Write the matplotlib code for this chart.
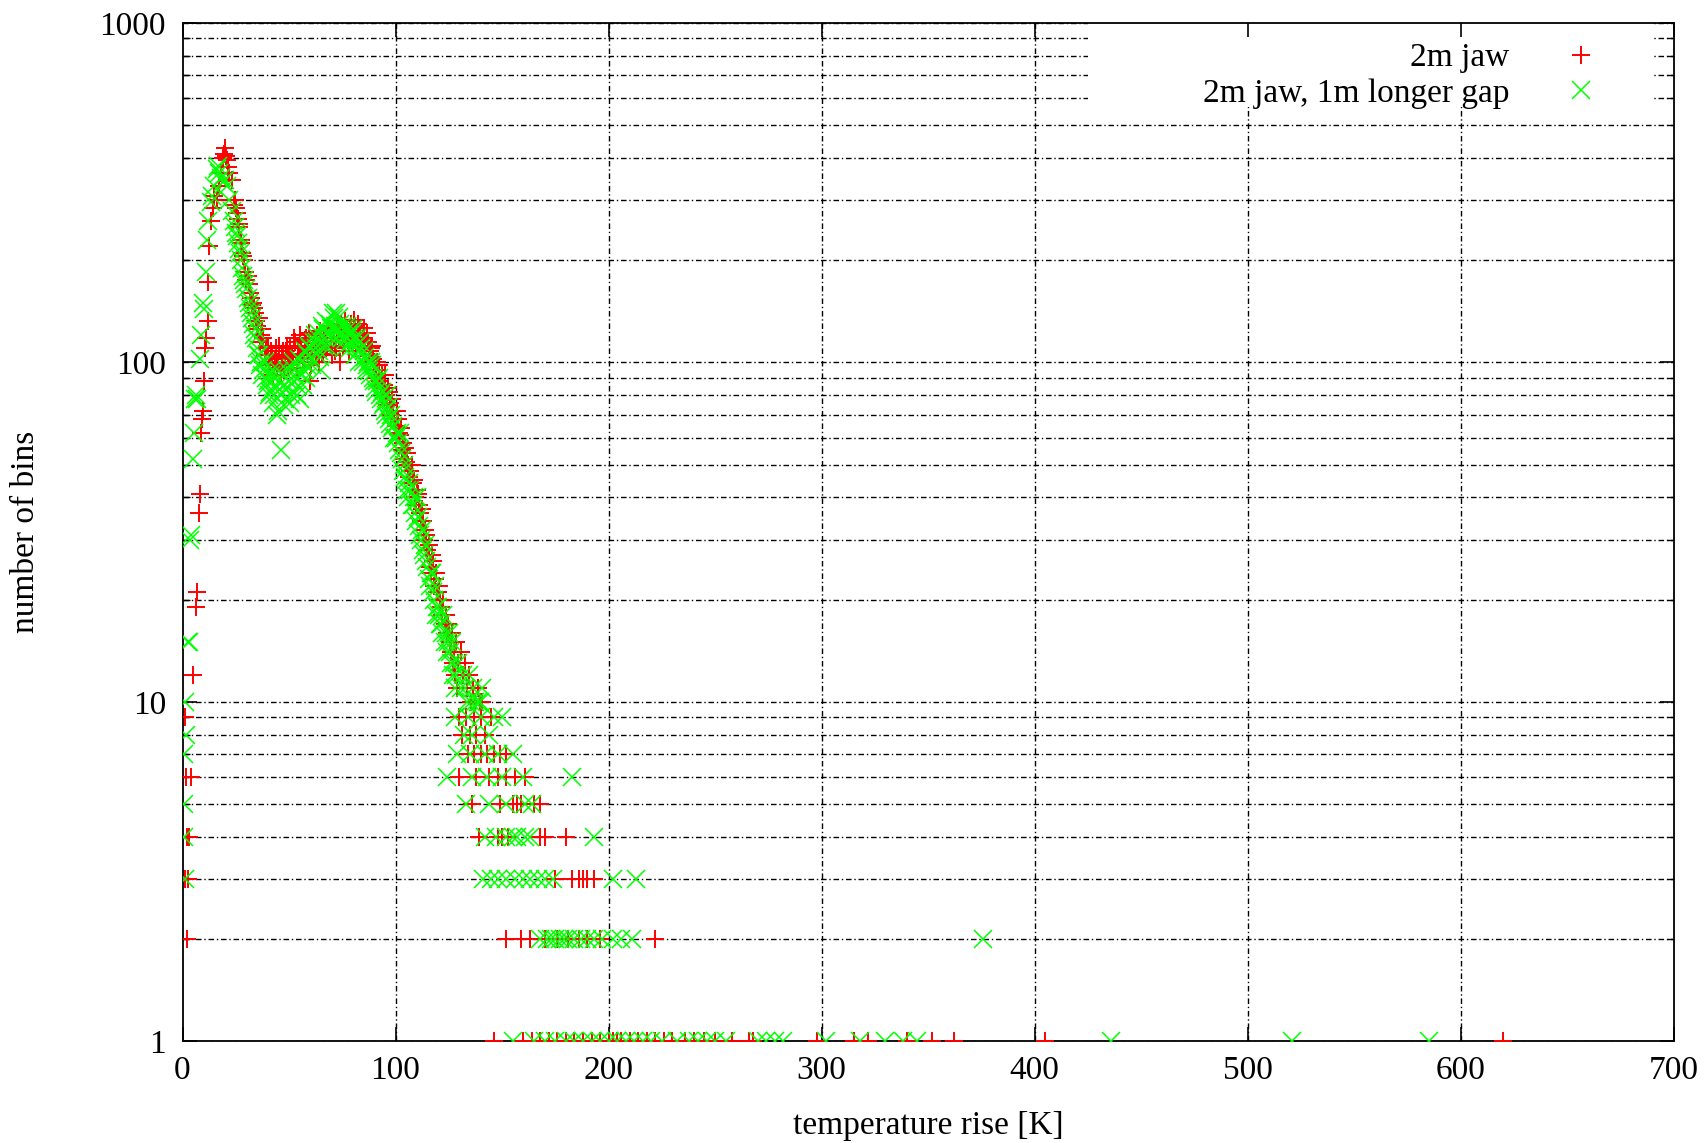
import numpy as np
import matplotlib.pyplot as plt
from matplotlib.patches import Rectangle

plt.rcParams['font.family'] = ['Liberation Serif', 'DejaVu Serif']

# 2m jaw (red +): temperature rise [K] and counts per bin
red_x = [1, 1.5, 2, 1, 2.5, 2, 3, 4, 5, 6.5,
         7, 7.5, 8, 8.5, 9, 9.5, 10, 10.5, 11, 11.8,
         11.8, 12.5, 13.5, 14.5, 15, 16, 17, 18, 19, 19.5,
         20, 20.5, 21, 21.5, 22, 23, 24, 25, 26, 26.5,
         27.5, 28, 29, 30, 31, 32, 33, 34, 35, 36,
         37, 38, 39, 40, 41, 42, 43, 44, 45, 46,
         47, 48, 49, 50, 51, 52, 53, 54, 55, 56,
         57, 58, 59, 60, 61, 62, 63, 64, 65, 66,
         67, 68, 69, 70, 71, 72, 73, 74, 75, 76,
         77, 78, 79, 80, 81, 82, 83, 84, 85, 86,
         87, 88, 89, 90, 91, 92, 93, 94, 95, 96,
         97, 98, 99, 100, 101, 102, 103, 104, 105, 106,
         107, 108, 109, 110, 111, 112, 113, 114, 115, 116,
         117, 118, 119, 120, 121, 122, 123, 124, 125, 126,
         127, 128, 129]
red_y = [9, 6, 4, 3, 3, 2, 4, 6, 12, 19,
         21, 36, 41, 62, 68, 72, 88, 110, 118, 132,
         173, 220, 260, 285, 310, 300, 330, 360, 400, 410,
         427, 405, 395, 375, 360, 345, 290, 285, 265, 255,
         230, 210, 200, 175, 170, 155, 150, 140, 128, 135,
         120, 118, 110, 112, 100, 105, 95, 110, 100, 92,
         108, 100, 112, 105, 98, 100, 115, 110, 120, 105,
         102, 118, 112, 88, 105, 110, 120, 100, 115, 108,
         118, 112, 125, 105, 118, 110, 122, 100, 128, 115,
         125, 108, 130, 120, 128, 115, 126, 110, 126, 100,
         115, 108, 112, 100, 90, 98, 85, 84, 92, 75,
         82, 70, 72, 65, 68, 61, 55, 52, 51, 50,
         48, 44, 40, 42, 38, 34, 34, 32, 28, 25,
         27, 22, 24, 21, 20, 18, 17, 16, 16, 14,
         13, 12, 11]

# red, bins in between (half-kelvin positions)
red_x2 = [24.5, 25.5, 26.5, 27.5, 28.5, 29.5, 30.5, 31.5, 32.5, 33.5,
          34.5, 35.5, 36.5, 37.5, 38.5, 39.5, 40.5, 41.5, 42.5, 43.5,
          44.5, 45.5, 46.5, 47.5, 48.5, 49.5, 50.5, 51.5, 52.5, 53.5,
          54.5, 55.5, 56.5, 57.5, 58.5, 59.5, 60.5, 61.5, 62.5, 63.5,
          64.5, 65.5, 66.5, 67.5, 68.5, 69.5, 70.5, 71.5, 72.5, 73.5,
          74.5, 75.5, 76.5, 77.5, 78.5, 79.5, 80.5, 81.5, 82.5, 83.5,
          84.5, 85.5, 86.5, 87.5, 88.5, 89.5, 90.5, 91.5, 92.5, 93.5,
          94.5, 95.5, 96.5, 97.5, 98.5, 99.5, 100.5, 101.5, 102.5, 103.5,
          104.5, 105.5, 106.5, 107.5, 108.5, 109.5, 110.5, 111.5, 112.5, 113.5,
          114.5, 115.5, 116.5, 117.5, 118.5, 119.5, 120.5, 121.5, 122.5, 123.5,
          124.5, 125.5, 126.5, 127.5, 128.5, 129.5, 130.5, 131.5, 132.5, 133.5,
          134.5, 135.5, 136.5, 137.5, 138.5, 139.5, 140.5]
red_y2 = [300, 275, 250, 225, 205, 185, 180, 160, 148, 145,
          132, 125, 115, 125, 105, 112, 98, 108, 92, 102,
          96, 112, 104, 95, 108, 98, 110, 104, 118, 96,
          106, 112, 100, 116, 108, 122, 98, 114, 104, 112,
          124, 106, 120, 110, 128, 115, 122, 108, 126, 118,
          130, 112, 132, 118, 124, 116, 133, 110, 130, 120,
          118, 112, 122, 105, 110, 102, 95, 100, 88, 92,
          86, 80, 84, 76, 78, 68, 72, 62, 64, 58,
          56, 54, 46, 50, 45, 38, 41, 36, 37, 30,
          31, 29, 24, 26, 23, 21, 22, 19, 20, 18,
          17, 15, 16, 14, 15, 13, 14, 12, 13, 11,
          12, 10, 11, 10, 11, 10, 10]

red_tail_x = [130, 133, 137, 140, 145, 131, 135, 138, 142,
              134, 137, 140, 143, 146, 149, 152,
              130, 138, 144, 148, 152, 156, 161,
              136, 149, 155, 157, 159, 165, 168,
              139, 148, 150, 153, 168, 170, 180,
              175, 183, 186, 188, 190, 193,
              152, 159, 163, 170, 176, 181, 186, 190, 196, 222,
              146, 160, 164, 168, 172, 176, 180, 184, 188, 192, 196, 200, 202, 204, 206,
              210, 214, 218, 222, 226, 230, 236, 240, 245, 250, 258, 266, 268, 298, 315,
              322, 340, 352, 362, 405, 620]
red_tail_y = [9, 9, 9, 9, 9, 8, 8, 8, 8,
              7, 7, 7, 7, 7, 7, 7,
              6, 6, 6, 6, 6, 6, 6,
              5, 5, 5, 5, 5, 5, 5,
              4, 4, 4, 4, 4, 4, 4,
              3, 3, 3, 3, 3, 3,
              2, 2, 2, 2, 2, 2, 2, 2, 2, 2,
              1, 1, 1, 1, 1, 1, 1, 1, 1, 1, 1, 1, 1, 1, 1,
              1, 1, 1, 1, 1, 1, 1, 1, 1, 1, 1, 1, 1, 1, 1,
              1, 1, 1, 1, 1, 1]

# 2m jaw, 1m longer gap (green x)
grn_x = [0.5, 1, 1.5, 0.5, 0.5, 1, 2.5, 3, 3.5, 4,
         5, 5.5, 6, 6.5, 7, 8, 8.8, 9.5, 10.3, 11,
         11.5, 12, 13.5, 14, 15, 16, 16.5, 17, 18, 19,
         20, 21, 22, 23, 24, 25, 26, 27, 28, 29,
         30, 31, 32, 33, 34, 35, 36, 37, 38, 39,
         40, 41, 42, 43, 44, 45, 46, 47, 48, 49,
         50, 51, 52, 53, 54, 55, 56, 57, 58, 59,
         60, 61, 62, 63, 64, 65, 66, 67, 68, 69,
         70, 71, 72, 73, 74, 75, 76, 77, 78, 79,
         80, 81, 82, 83, 84, 85, 86, 87, 88, 89,
         90, 91, 92, 93, 94, 95, 96, 97, 98, 99,
         100, 101, 102, 103, 104, 105, 106, 107, 108, 109,
         110, 111, 112, 113, 114, 115, 116, 117, 118, 119,
         120, 121, 122, 123, 124, 125, 126, 127, 128]
grn_y = [7, 10, 8, 5, 4, 3, 15, 15, 30, 31,
         52, 62, 78, 80, 78, 102, 120, 150, 144, 184,
         230, 260, 297, 310, 330, 370, 380, 360, 350, 340,
         345, 330, 300, 280, 260, 240, 225, 210, 190, 175,
         165, 150, 140, 130, 125, 110, 105, 100, 95, 90,
         88, 82, 95, 80, 90, 72, 55, 85, 78, 95,
         88, 80, 100, 92, 85, 78, 100, 95, 90, 105,
         110, 98, 120, 115, 108, 95, 125, 118, 112, 130,
         120, 135, 140, 125, 130, 118, 110, 128, 120, 115,
         125, 105, 118, 100, 110, 108, 95, 100, 92, 98,
         88, 82, 90, 78, 75, 72, 80, 68, 70, 65,
         60, 58, 62, 52, 50, 45, 40, 42, 38, 36,
         40, 33, 30, 28, 29, 25, 22, 24, 20, 18,
         19, 17, 16, 15, 14, 16, 13, 12, 11]

# green, bins in between
grn_x2 = [24.5, 25.5, 26.5, 27.5, 28.5, 29.5, 30.5, 31.5, 32.5, 33.5,
          34.5, 35.5, 36.5, 37.5, 38.5, 39.5, 40.5, 41.5, 42.5, 43.5,
          44.5, 45.5, 46.5, 47.5, 48.5, 49.5, 50.5, 51.5, 52.5, 53.5,
          54.5, 55.5, 56.5, 57.5, 58.5, 59.5, 60.5, 61.5, 62.5, 63.5,
          64.5, 65.5, 66.5, 67.5, 68.5, 69.5, 70.5, 71.5, 72.5, 73.5,
          74.5, 75.5, 76.5, 77.5, 78.5, 79.5, 80.5, 81.5, 82.5, 83.5,
          84.5, 85.5, 86.5, 87.5, 88.5, 89.5, 90.5, 91.5, 92.5, 93.5,
          94.5, 95.5, 96.5, 97.5, 98.5, 99.5, 100.5, 101.5, 102.5, 103.5,
          104.5, 105.5, 106.5, 107.5, 108.5, 109.5, 110.5, 111.5, 112.5, 113.5,
          114.5, 115.5, 116.5, 117.5, 118.5, 119.5, 120.5, 121.5, 122.5, 123.5,
          124.5, 125.5, 126.5, 127.5, 128.5, 129.5, 130.5, 131.5, 132.5, 133.5,
          134.5, 135.5, 136.5, 137.5, 138.5, 139.5, 140.5]
grn_y2 = [250, 235, 215, 200, 180, 170, 155, 145, 135, 120,
          118, 105, 98, 92, 100, 86, 80, 92, 76, 86,
          70, 94, 82, 75, 90, 84, 76, 96, 88, 80,
          102, 92, 86, 108, 98, 112, 104, 115, 110, 122,
          104, 128, 112, 132, 120, 126, 140, 128, 118, 136,
          122, 128, 116, 125, 110, 122, 118, 112, 108, 115,
          100, 104, 98, 94, 100, 90, 84, 88, 80, 82,
          76, 70, 74, 66, 64, 60, 62, 55, 54, 48,
          46, 42, 44, 38, 40, 34, 35, 31, 32, 27,
          26, 23, 24, 21, 22, 19, 18, 17, 18, 16,
          15, 14, 15, 13, 12, 13, 11, 12, 11, 10,
          12, 10, 11, 10, 10, 10, 11]

grn_tail_x = [128, 134, 140, 146, 150, 132, 136, 144,
              129, 135, 142, 148, 155,
              124, 136, 143, 150, 160, 183,
              133, 144, 152, 161, 164,
              142, 147, 152, 155, 157, 161, 163, 193,
              141, 145, 148, 152, 156, 160, 163, 167, 170, 174, 202, 213,
              168, 171, 173, 175, 177, 179, 181, 184, 187, 190, 193, 197, 202, 206, 211,
              376,
              155, 165, 170, 175, 180, 184, 188, 192, 196, 200, 204, 208, 212, 216, 220,
              225, 232, 238, 242, 246, 250, 255, 270, 274, 278, 282, 302, 318, 330, 338,
              345, 436, 521, 585]
grn_tail_y = [9, 9, 9, 9, 9, 8, 8, 8,
              7, 7, 7, 7, 7,
              6, 6, 6, 6, 6, 6,
              5, 5, 5, 5, 5,
              4, 4, 4, 4, 4, 4, 4, 4,
              3, 3, 3, 3, 3, 3, 3, 3, 3, 3, 3, 3,
              2, 2, 2, 2, 2, 2, 2, 2, 2, 2, 2, 2, 2, 2, 2,
              2,
              1, 1, 1, 1, 1, 1, 1, 1, 1, 1, 1, 1, 1, 1, 1,
              1, 1, 1, 1, 1, 1, 1, 1, 1, 1, 1, 1, 1, 1, 1,
              1, 1, 1, 1]

fig = plt.figure(figsize=(17.06, 11.43), dpi=100)
ax = fig.add_axes([0.107, 0.089, 0.874, 0.891])

ax.plot(red_x + red_x2 + red_tail_x, red_y + red_y2 + red_tail_y, ls='none',
        marker='+', ms=13, mew=1.4, color='#ff0000', label='2m jaw', zorder=3)
ax.plot(grn_x + grn_x2 + grn_tail_x, grn_y + grn_y2 + grn_tail_y, ls='none',
        marker='x', ms=13, mew=1.1, color='#00ff00', label='2m jaw, 1m longer gap',
        zorder=3)

ax.set_yscale('log')
ax.set_xlim(0, 700)
ax.set_ylim(1, 1000)
ax.set_xticks(np.arange(0, 701, 100))
ax.set_yticks([1, 10, 100, 1000])
ax.set_yticklabels(['1', '10', '100', '1000'])

# gnuplot-like grid on major and minor ticks, drawn by hand so the key can hide it
dash = (0, (4, 2, 1, 2))
ygrid = [k * 10 ** d for d in range(3) for k in range(1, 10)] + [1000]
ax.hlines(ygrid, 0, 700, colors='black', lw=1.0, linestyles=[dash], zorder=1)
ax.vlines(np.arange(100, 700, 100), 1, 1000, colors='black', lw=1.0,
          linestyles=[dash], zorder=1)

# white key area like gnuplot
ax.add_patch(Rectangle((0.607, 0.917), 0.379, 0.083, transform=ax.transAxes,
                       facecolor='white', edgecolor='none', zorder=1.5))

ax.tick_params(which='both', direction='in', top=True, right=True, labelsize=24)
ax.tick_params(which='major', length=10, width=1.2)
ax.tick_params(which='minor', length=5, width=1.0)
ax.tick_params(axis='x', pad=10)
ax.tick_params(axis='y', pad=12)
for s in ax.spines.values():
    s.set_linewidth(1.3)

ax.set_xlabel('temperature rise [K]', fontsize=24, labelpad=18)
ax.set_ylabel('number of bins', fontsize=24, labelpad=42)

leg = ax.legend(loc='upper right', markerfirst=False, fontsize=24, frameon=False,
                handletextpad=1.4, borderaxespad=0.2, labelspacing=0.15,
                handlelength=1.5, bbox_to_anchor=(0.968, 1.0))
leg.set_zorder(4)

plt.savefig('out.png', dpi=100)
